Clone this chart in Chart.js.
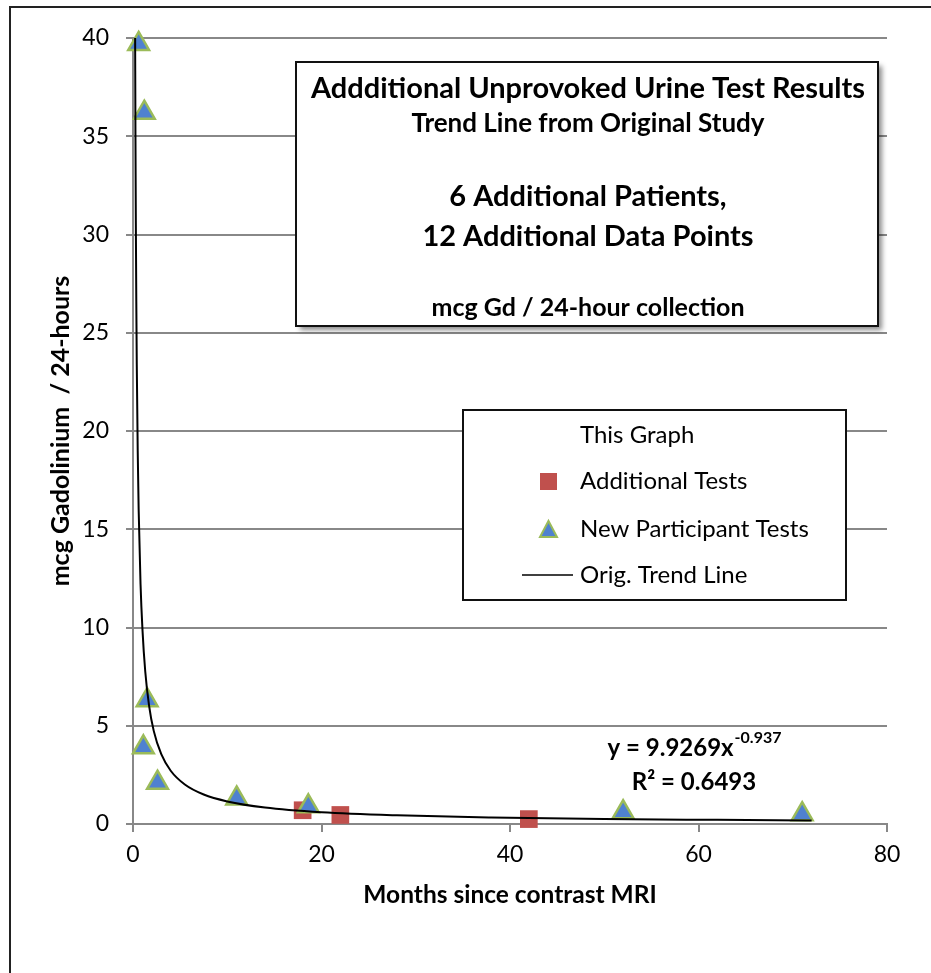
<!DOCTYPE html>
<html>
<head>
<meta charset="utf-8">
<script src="https://cdn.jsdelivr.net/npm/chart.js@4.4.1/dist/chart.umd.min.js"></script>
<style>
  html, body { margin: 0; padding: 0; background: #fff; }
  #wrap { width: 931px; height: 973px; }
</style>
</head>
<body>
<div id="wrap"><canvas id="chart" width="931" height="973"></canvas></div>
<script>
// values
const additionalX = [18, 22, 42];
const additionalY = [0.7, 0.46, 0.25];

const newPartX = [0.6, 1.2, 1.5, 1.1, 2.6, 11, 18.6, 52, 71];
const newPartY = [39.7, 36.2, 6.3, 3.9, 2.1, 1.3, 0.9, 0.6, 0.5];

// original trend line (y = 9.9269x^-0.937)
const trendX = [0.226, 0.26, 0.3, 0.35, 0.4, 0.5, 0.6, 0.8, 1, 1.3, 1.7, 2.2, 3, 4, 5.5, 7.5, 10, 14, 20, 28, 38, 50, 62, 72];
const trendY = [40, 35.1, 30.7, 26.6, 23.4, 19.0, 16.0, 12.2, 9.93, 7.76, 6.04, 4.74, 3.55, 2.71, 2.01, 1.5, 1.15, 0.84, 0.6, 0.44, 0.33, 0.25, 0.21, 0.18];

const titleLines = [
  "Addditional Unprovoked Urine Test Results",
  "Trend Line from Original Study",
  "6 Additional Patients,",
  "12 Additional Data Points",
  "mcg Gd / 24-hour collection",
];
const legendHeader = "This Graph";
const eqText = "y = 9.9269x";
const eqExp = "-0.937";
const r2Text = "R\u00b2 = 0.6493";

const FONT = "Lato, 'Noto Sans', sans-serif";
const zip = (xs, ys) => xs.map((x, i) => ({ x, y: ys[i] }));

const decor = {
  id: "decor",
  afterDraw(chart) {
    const ctx = chart.ctx;
    ctx.save();
    // outer frame (only left and top edges fall inside the picture)
    ctx.strokeStyle = "#222";
    ctx.lineWidth = 2;
    ctx.strokeRect(10, 7, 1200, 1200);

    // title box with shadow
    ctx.save();
    ctx.shadowColor = "rgba(0,0,0,0.45)";
    ctx.shadowOffsetX = 4;
    ctx.shadowOffsetY = 4;
    ctx.shadowBlur = 5;
    ctx.fillStyle = "#fff";
    ctx.fillRect(296, 62, 582, 264);
    ctx.restore();
    ctx.strokeStyle = "#111";
    ctx.lineWidth = 2;
    ctx.strokeRect(296, 62, 582, 264);

    ctx.fillStyle = "#000";
    ctx.textAlign = "center";
    ctx.textBaseline = "middle";
    const cx = 588;
    ctx.font = "bold 29px " + FONT;
    ctx.fillText(titleLines[0], cx, 89);
    ctx.font = "bold 26px " + FONT;
    ctx.fillText(titleLines[1], cx, 124);
    ctx.font = "bold 29px " + FONT;
    ctx.fillText(titleLines[2], cx, 197);
    ctx.fillText(titleLines[3], cx, 237);
    ctx.font = "bold 25px " + FONT;
    ctx.fillText(titleLines[4], cx, 308);

    // legend box
    ctx.fillStyle = "#fff";
    ctx.fillRect(463, 410, 383, 190);
    ctx.strokeStyle = "#111";
    ctx.lineWidth = 2;
    ctx.strokeRect(463, 410, 383, 190);
    ctx.textAlign = "left";
    ctx.font = "24px " + FONT;
    ctx.fillStyle = "#000";
    ctx.fillText(legendHeader, 580, 435);
    const ds = chart.data.datasets;
    const rows = [481, 529, 575];
    ds.forEach((d, i) => {
      const y = rows[i];
      if (d.pointStyle === "rect") {
        ctx.fillStyle = d.backgroundColor;
        ctx.fillRect(540, y - 8, 17, 17);
      } else if (d.pointStyle === "triangle") {
        ctx.beginPath();
        ctx.moveTo(548.5, y - 8);
        ctx.lineTo(557, y + 8);
        ctx.lineTo(540, y + 8);
        ctx.closePath();
        ctx.fillStyle = d.backgroundColor;
        ctx.fill();
        ctx.strokeStyle = d.borderColor;
        ctx.lineWidth = 2;
        ctx.stroke();
      } else {
        ctx.strokeStyle = d.borderColor;
        ctx.lineWidth = 1.5;
        ctx.beginPath();
        ctx.moveTo(522, y);
        ctx.lineTo(573, y);
        ctx.stroke();
      }
      ctx.fillStyle = "#000";
      ctx.fillText(d.label, 580, y);
    });

    // equation
    ctx.font = "bold 24px " + FONT;
    ctx.textAlign = "left";
    const w1 = ctx.measureText(eqText).width;
    ctx.font = "bold 16px " + FONT;
    const w2 = ctx.measureText(eqExp).width;
    const x0 = 694 - (w1 + w2) / 2;
    ctx.font = "bold 24px " + FONT;
    ctx.fillText(eqText, x0, 748);
    ctx.font = "bold 16px " + FONT;
    ctx.fillText(eqExp, x0 + w1 + 1, 738);
    ctx.font = "bold 24px " + FONT;
    ctx.textAlign = "center";
    ctx.fillText(r2Text, 694, 782);
    ctx.restore();
  },
};

new Chart(document.getElementById("chart"), {
  type: "scatter",
  data: {
    datasets: [
      {
        label: "Additional Tests",
        data: zip(additionalX, additionalY),
        pointStyle: "rect",
        pointRadius: 12.5,
        backgroundColor: "#c0504d",
        borderColor: "#c0504d",
        borderWidth: 0,
        clip: false,
        order: 2,
      },
      {
        label: "New Participant Tests",
        data: zip(newPartX, newPartY),
        pointStyle: "triangle",
        pointRadius: 12,
        backgroundColor: "#4f81d0",
        borderColor: "#9bbb59",
        borderWidth: 2.5,
        clip: false,
        order: 1,
      },
      {
        label: "Orig. Trend Line",
        data: zip(trendX, trendY),
        showLine: true,
        pointRadius: 0,
        borderColor: "#000",
        borderWidth: 2,
        tension: 0.4,
        cubicInterpolationMode: "monotone",
        clip: false,
        order: 0,
      },
    ],
  },
  options: {
    responsive: false,
    animation: false,
    layout: { padding: { left: 42, right: 44, top: 38, bottom: 59 } },
    plugins: { legend: { display: false }, tooltip: { enabled: false } },
    scales: {
      x: {
        type: "linear",
        min: 0,
        max: 80,
        ticks: { stepSize: 20, color: "#000", font: { family: FONT, size: 23 }, padding: 9 },
        grid: { drawOnChartArea: false, color: "#888", lineWidth: 2, tickLength: 8 },
        border: { color: "#888", width: 2 },
        title: { display: true, text: "Months since contrast MRI", color: "#000", font: { family: FONT, size: 24.5, weight: "bold" } },
        afterFit(s) { s.height = 90; },
      },
      y: {
        min: 0,
        max: 40,
        ticks: { stepSize: 5, color: "#000", font: { family: FONT, size: 23 }, padding: 17 },
        grid: { color: "#888", lineWidth: 2, tickLength: 7 },
        border: { color: "#888", width: 2 },
        title: { display: true, text: "mcg Gadolinium  / 24-hours", color: "#000", font: { family: FONT, size: 25, weight: "bold" } },
        afterFit(s) { s.width = 91; },
      },
    },
  },
  plugins: [decor],
});
</script>
</body>
</html>
